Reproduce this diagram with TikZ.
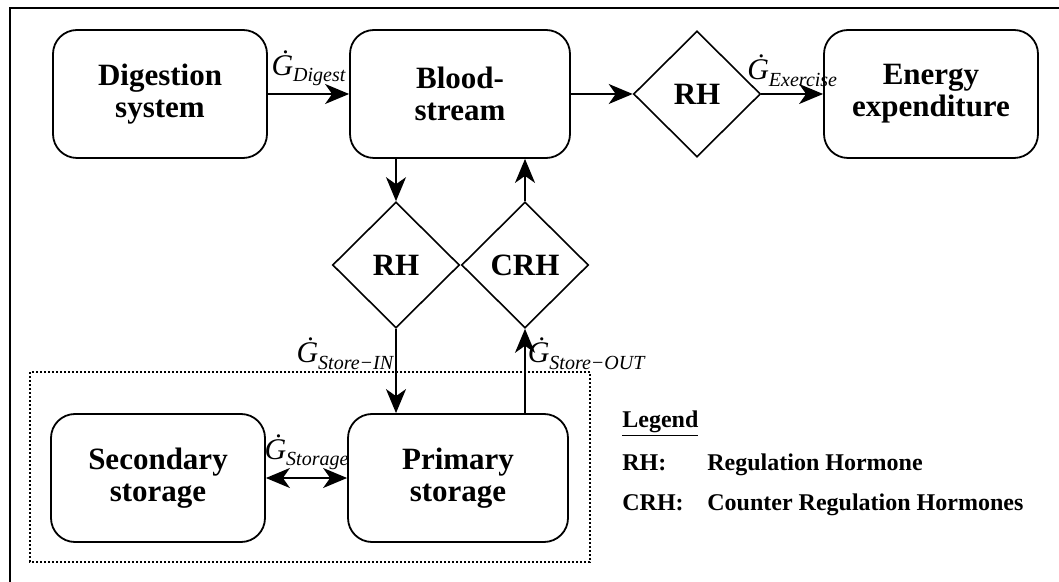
\documentclass[tikz,border=0pt]{standalone}
\usepackage{fontspec}
\setmainfont{Liberation Serif}
\usetikzlibrary{arrows.meta, positioning, shapes.geometric}

\newcommand{\gflow}[1]{\textit{\.G}\raisebox{-0.5ex}{\fontsize{10}{10}\selectfont\itshape #1}}

\tikzset{
  block/.style={draw, line width=0.9pt, rounded corners=12pt, minimum width=107pt,
    minimum height=64pt, align=center, font=\fontsize{15.5}{16}\selectfont\bfseries},
  hormone/.style={draw, diamond, line width=0.8pt, inner sep=0pt, minimum width=63.5pt,
    minimum height=63pt, font=\fontsize{15.5}{16}\selectfont\bfseries},
  flow/.style={->, line width=0.8pt},
  rate/.style={font=\fontsize{15}{15}\selectfont, inner sep=1pt},
  legendtext/.style={anchor=base west, inner sep=0pt, font=\fontsize{12}{12}\selectfont\bfseries},
}

\begin{document}
\begin{tikzpicture}[x=0.5pt, y=-0.5pt, >={Stealth[length=12pt, width=10pt, inset=3.5pt]}]
  \useasboundingbox (0,0) rectangle (1059,582);
  \draw[line width=0.9pt] (1059,8) -- (10,8) -- (10,582);

  % top row
  \node[block] (digest) at (160,94) {Digestion\\system};
  \node[block, minimum width=110pt] (blood) at (460,94) {Blood-\\stream};
  \node[hormone] (rhtop) at (697,94) {RH};
  \node[block] (energy) at (931,94) {Energy\\expenditure};

  % hormone switches
  \node[hormone] (rhlow) at (396,265) {RH};
  \node[hormone] (crh) at (525,265) {CRH};

  % storage
  \draw[densely dotted, line width=1pt] (30,372) rectangle (590,562);
  \node[block] (secondary) at (158,478) {Secondary\\storage};
  \node[block, minimum width=110pt] (primary) at (458,478) {Primary\\storage};

  \draw[flow] (digest) -- node[rate, above=2.5pt] {\gflow{Digest}} (blood);
  \draw[flow] (blood) -- (rhtop);
  \draw[flow] (rhtop) -- node[rate, above=2.5pt] {\gflow{Exercise}} (energy);
  \draw[flow] (rhlow.north |- blood.south) -- (rhlow.north);
  \draw[flow] (crh.north) -- (crh.north |- blood.south);
  \draw[flow] (rhlow.south) -- node[rate, left, pos=0.3] {\gflow{Store−IN}} (rhlow.south |- primary.north);
  \draw[flow] (crh.south |- primary.north) -- node[rate, right, pos=0.7] {\gflow{Store−OUT}} (crh.south);
  \draw[flow, <->] (secondary) -- node[rate, above=2.5pt] {\gflow{Storage}} (primary);

  % legend
  \node[legendtext] (legend) at (622,427) {\underline{Legend}};
  \node[legendtext] (rhkey) at (622,470) {RH:};
  \node[legendtext] (rhname) at (707,470) {Regulation Hormone};
  \node[legendtext] (crhkey) at (622,510) {CRH:};
  \node[legendtext] (crhname) at (707,510) {Counter Regulation Hormones};
\end{tikzpicture}
\end{document}
